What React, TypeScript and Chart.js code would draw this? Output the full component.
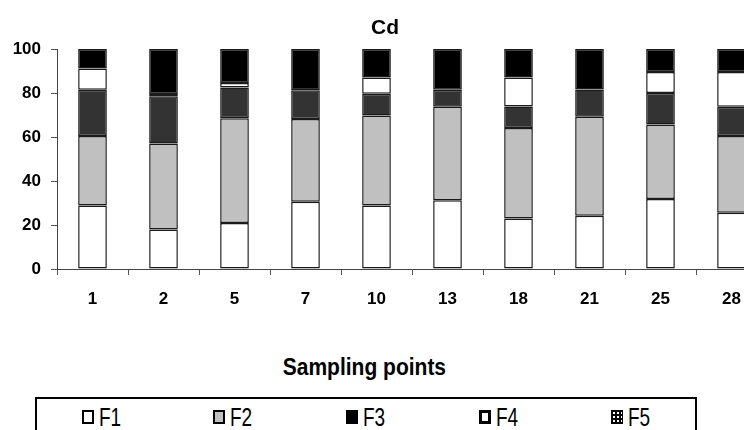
import React, { useEffect, useRef } from "react";
import { Chart, registerables } from "chart.js";

Chart.register(...registerables);

const categories = ["1", "2", "5", "7", "10", "13", "18", "21", "25", "28"];
const seriesNames = ["F1", "F2", "F3", "F4", "F5"];
const f1 = [28.9, 17.9, 20.9, 30.6, 28.9, 31.2, 23.0, 24.2, 31.8, 25.6];
const f2 = [31.6, 39.2, 47.6, 37.6, 40.9, 42.6, 41.1, 45.0, 33.9, 34.9];
const f3 = [21.0, 21.4, 14.0, 13.0, 9.9, 7.7, 9.8, 12.4, 14.3, 13.3];
const f4 = [9.6, 1.0, 2.0, 0, 7.4, 0, 13.2, 0, 9.5, 15.7];
const f5 = [8.9, 20.5, 15.5, 18.8, 12.9, 18.5, 12.9, 18.4, 10.5, 10.5];
const yTicks = [0, 20, 40, 60, 80, 100];
const chartTitle = "Cd";
const xAxisTitle = "Sampling points";

const fills = ["#ffffff", "#c0c0c0", "#333333", "#ffffff", "#000000"];
const FONT = "'Liberation Sans', Arial, sans-serif";

export default function App() {
  const ref = useRef<HTMLCanvasElement | null>(null);

  useEffect(() => {
    if (!ref.current) return;
    const values = [f1, f2, f3, f4, f5];
    const chart = new Chart(ref.current, {
      type: "bar",
      data: {
        labels: categories,
        datasets: seriesNames.map((name, i) => ({
          label: name,
          data: values[i],
          backgroundColor: fills[i],
          borderColor: "#1a1a1a",
          borderWidth: 1.5,
          borderSkipped: false,
          stack: "s",
          barPercentage: 0.404,
          categoryPercentage: 1,
        })),
      },
      options: {
        animation: false,
        responsive: false,
        devicePixelRatio: 1,
        layout: { padding: { top: 49, right: 33, bottom: 0, left: 0 } },
        plugins: {
          legend: { display: false },
          tooltip: { enabled: false },
          title: { display: false },
        },
        scales: {
          x: {
            stacked: true,
            afterFit: (s: any) => {
              s.height = 51;
            },
            grid: {
              offset: true,
              drawOnChartArea: false,
              drawTicks: true,
              tickLength: 6,
              color: "#555555",
            },
            border: { display: true, color: "#444444", width: 1 },
            ticks: {
              color: "#000000",
              font: { family: FONT, size: 17, weight: "bold" },
              padding: 14,
            },
          },
          y: {
            stacked: true,
            min: 0,
            max: 100,
            afterFit: (s: any) => {
              s.width = 57;
            },
            afterBuildTicks: (s: any) => {
              s.ticks = yTicks.map((v) => ({ value: v }));
            },
            grid: {
              drawOnChartArea: false,
              drawTicks: true,
              tickLength: 6,
              color: "#555555",
            },
            border: { display: true, color: "#444444", width: 1 },
            ticks: {
              color: "#000000",
              font: { family: FONT, size: 17, weight: "bold" },
              padding: 10,
            },
          },
        },
      },
    });
    return () => chart.destroy();
  }, []);

  const legendX = [82, 213, 346, 479, 611];
  const marker = (i: number): React.CSSProperties => {
    const base: React.CSSProperties = {
      position: "absolute",
      left: legendX[i],
      top: 410,
      width: 12,
      height: 14,
      boxSizing: "border-box",
    };
    if (i === 0) return { ...base, background: "#fff", border: "2px solid #000" };
    if (i === 1) return { ...base, background: "#c0c0c0", border: "2px solid #000" };
    if (i === 2) return { ...base, background: "#000", border: "2px solid #000" };
    if (i === 3) return { ...base, background: "#fff", border: "3px solid #000" };
    return {
      ...base,
      background: "#000",
      backgroundImage: "radial-gradient(#fff 1px, transparent 1.4px)",
      backgroundSize: "4px 4px",
      border: "1px solid #000",
    };
  };

  return (
    <div
      style={{
        position: "absolute",
        left: 0,
        top: 0,
        width: 744,
        height: 430,
        overflow: "hidden",
        background: "#fff",
        fontFamily: FONT,
      }}
    >
      <canvas
        ref={ref}
        width={800}
        height={320}
        style={{ position: "absolute", left: 0, top: 0, width: 800, height: 320 }}
      />
      <div
        style={{
          position: "absolute",
          left: 285,
          top: 15.6,
          width: 200,
          textAlign: "center",
          fontWeight: "bold",
          fontSize: 21,
          lineHeight: 1,
          color: "#000",
        }}
      >
        {chartTitle}
      </div>
      <div
        style={{
          position: "absolute",
          left: 214.4,
          top: 353.5,
          width: 300,
          textAlign: "center",
          fontWeight: "bold",
          fontSize: 21,
          lineHeight: 1,
          color: "#000",
          transform: "scaleY(1.17)",
          transformOrigin: "top left",
        }}
      >
        {xAxisTitle}
      </div>
      <div
        style={{
          position: "absolute",
          left: 35,
          top: 397,
          width: 662,
          height: 60,
          border: "2px solid #000",
          boxSizing: "border-box",
        }}
      />
      {seriesNames.map((name, i) => (
        <React.Fragment key={name}>
          <div style={marker(i)} />
          <div
            style={{
              position: "absolute",
              left: legendX[i] + 17,
              top: 403.5,
              fontSize: 19,
              lineHeight: 1,
              color: "#000",
              transform: "scaleY(1.4)",
              transformOrigin: "top left",
              whiteSpace: "nowrap",
            }}
          >
            {name}
          </div>
        </React.Fragment>
      ))}
    </div>
  );
}
